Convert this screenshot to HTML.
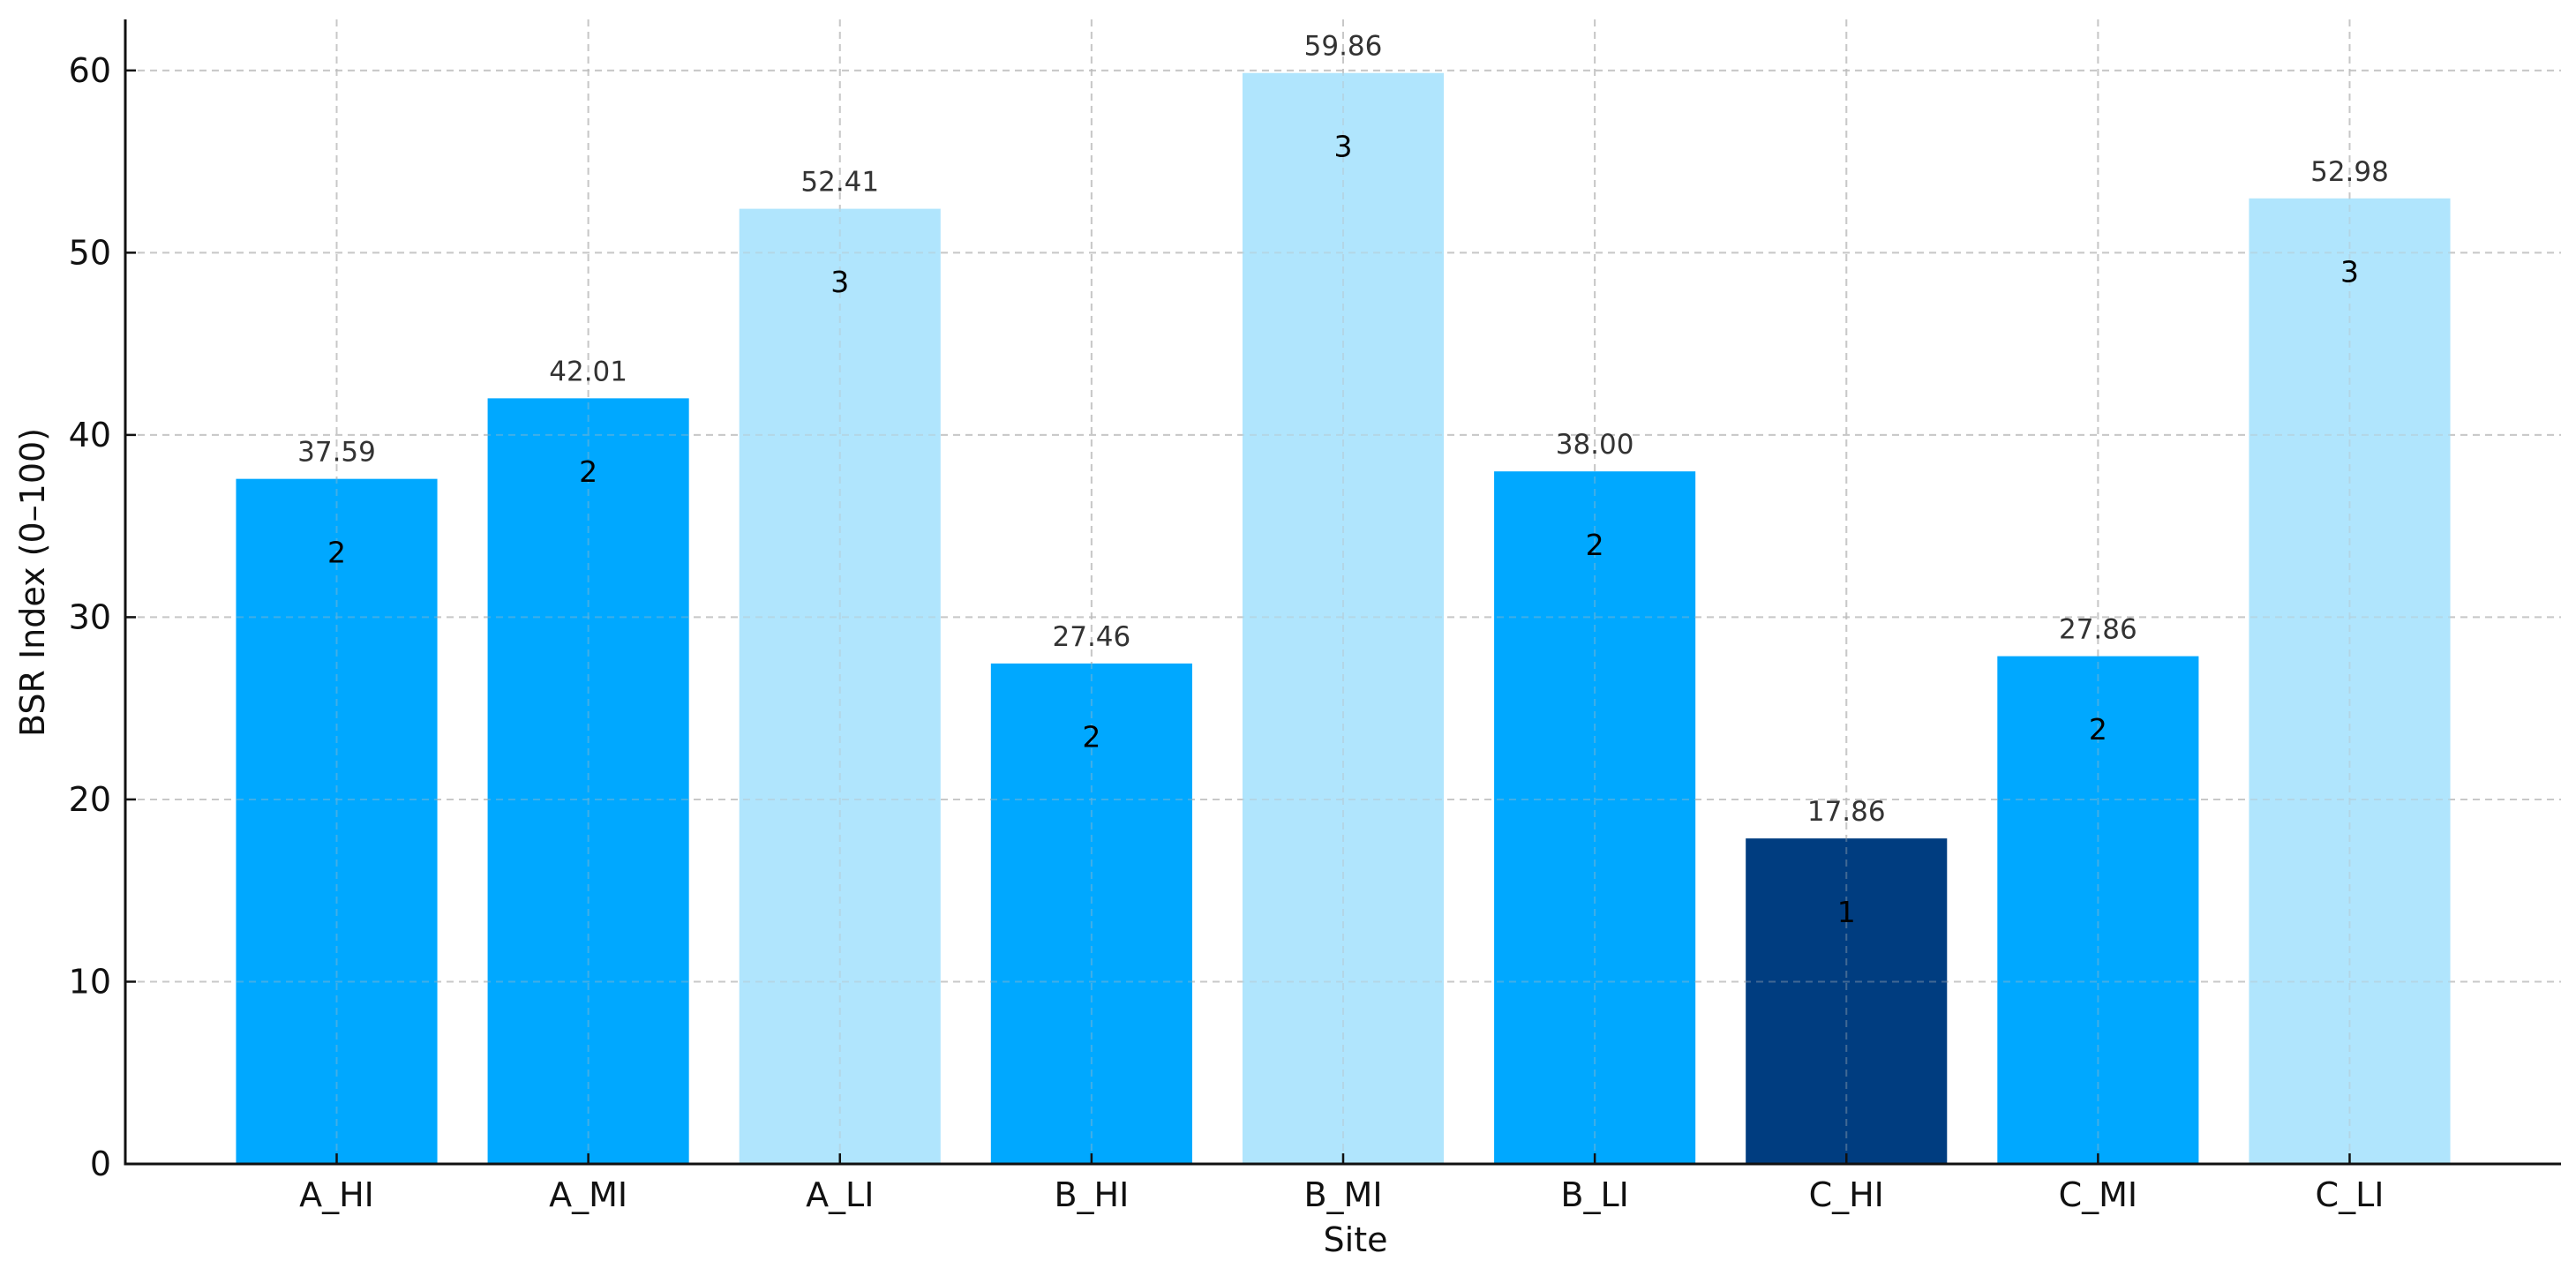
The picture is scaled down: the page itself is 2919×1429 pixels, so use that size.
<!DOCTYPE html>
<html><head><meta charset="utf-8"><style>
html,body{margin:0;padding:0;background:#fff;}
svg{display:block;font-family:"DejaVu Sans","Liberation Sans",sans-serif;}
</style></head><body>
<svg id="chart" width="2919" height="1429" viewBox="0 0 2919 1429">
<g id="grid"></g>
<g id="bars"></g>
<g id="gridTop"></g>
<g id="labels"></g>
<g id="axes"></g>
<text x="1536" y="1418" font-size="38" text-anchor="middle" fill="#111">Site</text>
<text transform="translate(50,660) rotate(-90)" font-size="38" text-anchor="middle" fill="#111">BSR Index (0–100)</text>
</svg>
<script>
const categories = ["A_HI","A_MI","A_LI","B_HI","B_MI","B_LI","C_HI","C_MI","C_LI"];
const values = [37.59,42.01,52.41,27.46,59.86,38.00,17.86,27.86,52.98];
const levels = [2,2,3,2,3,2,1,2,3];
const yTicks = [0,10,20,30,40,50,60];
const levelColors = {1:"#003d80",2:"#00a8ff",3:"#b0e5fd"};

const NS="http://www.w3.org/2000/svg";
const pL=142, pR=2902, pT=22, pB=1319;
const xMin=-0.84, xMax=categories.length-1+0.84;
const yMax=62.8;
function xs(i){return pL+(i-xMin)/(xMax-xMin)*(pR-pL);}
function ys(v){return pB-v/yMax*(pB-pT);}
const bw=0.8*(xs(1)-xs(0));
function mk(tag,attrs,parent){const e=document.createElementNS(NS,tag);for(const k in attrs)e.setAttribute(k,attrs[k]);parent.appendChild(e);return e;}
const gGrid=document.getElementById('grid'),gBars=document.getElementById('bars'),gGt=document.getElementById('gridTop'),gLab=document.getElementById('labels'),gAx=document.getElementById('axes');

function gridLines(g){
  yTicks.forEach(t=>{const l=mk('line',{x1:pL,x2:pR,y1:ys(t),y2:ys(t),stroke:'#bbb','stroke-width':2,'stroke-dasharray':'8,6',opacity:0.7},g);
    
    });
  categories.forEach((c,i)=>{const l=mk('line',{x1:xs(i),x2:xs(i),y1:pT,y2:pB,stroke:'#bbb','stroke-width':2,'stroke-dasharray':'8,6',opacity:0.7},g);
    
    });
}
gridLines(gGrid);

categories.forEach((c,i)=>{
  const v=values[i];
  const r=mk('rect',{x:xs(i)-bw/2,y:ys(v),width:bw,height:pB-ys(v),fill:levelColors[levels[i]]},gBars);
  
  
  const t=mk('text',{x:xs(i),y:ys(v)-20,'font-size':31,'text-anchor':'middle',fill:'#333'},gLab);
  t.textContent=v.toFixed(2);
  
  
  const t2=mk('text',{x:xs(i),y:ys(v-4)+12,'font-size':33,'text-anchor':'middle',fill:'#000'},gLab);
  t2.textContent=String(levels[i]);
  
  
  const tk=mk('line',{x1:xs(i),x2:xs(i),y1:pB,y2:pB-12,stroke:'#111','stroke-width':2.5},gAx);
  
  
  const xl=mk('text',{x:xs(i),y:pB+48,'font-size':38,'text-anchor':'middle',fill:'#111'},gAx);
  xl.textContent=c;
  
  
});
gridLines(gGt);
gGt.setAttribute('opacity','0.5');

yTicks.forEach(t=>{
  const tk=mk('line',{x1:pL,x2:pL+12,y1:ys(t),y2:ys(t),stroke:'#111','stroke-width':2.5},gAx);
  
  
  const yl=mk('text',{x:pL-16,y:ys(t)+13,'font-size':38,'text-anchor':'end',fill:'#111'},gAx);
  yl.textContent=String(t);
  
  
});
const ya=mk('line',{x1:pL,x2:pL,y1:pT,y2:pB+1.5,stroke:'#111','stroke-width':3},gAx);


const xa=mk('line',{x1:pL-1.5,x2:pR,y1:pB,y2:pB,stroke:'#111','stroke-width':3},gAx);


</script>
</body></html>
